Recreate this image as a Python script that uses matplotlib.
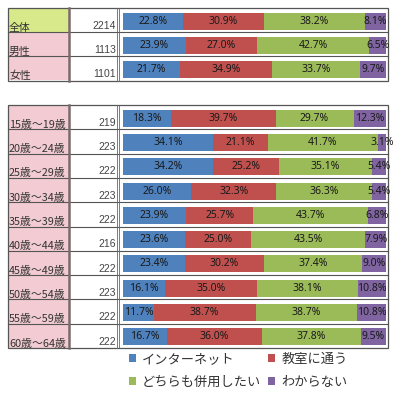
import matplotlib
matplotlib.use('Agg')
import matplotlib.pyplot as plt
from matplotlib.patches import Rectangle
import numpy as np

plt.rcParams['font.family'] = ['Noto Sans CJK JP', 'DejaVu Sans']

# data
series = ['インターネット', '教室に通う', 'どちらも併用したい', 'わからない']
colors = ['#4f81bd', '#c0504d', '#9bbb59', '#8064a2']

top_labels = ['全体', '男性', '女性']
top_n = [2214, 1113, 1101]
top_vals = [
    [22.8, 30.9, 38.2, 8.1],
    [23.9, 27.0, 42.7, 6.5],
    [21.7, 34.9, 33.7, 9.7],
]

age_labels = ['15歳～19歳', '20歳～24歳', '25歳～29歳', '30歳～34歳', '35歳～39歳',
              '40歳～44歳', '45歳～49歳', '50歳～54歳', '55歳～59歳', '60歳～64歳']
age_n = [219, 223, 222, 223, 222, 216, 222, 223, 222, 222]
age_vals = [
    [18.3, 39.7, 29.7, 12.3],
    [34.1, 21.1, 41.7, 3.1],
    [34.2, 25.2, 35.1, 5.4],
    [26.0, 32.3, 36.3, 5.4],
    [23.9, 25.7, 43.7, 6.8],
    [23.6, 25.0, 43.5, 7.9],
    [23.4, 30.2, 37.4, 9.0],
    [16.1, 35.0, 38.1, 10.8],
    [11.7, 38.7, 38.7, 10.8],
    [16.7, 36.0, 37.8, 9.5],
]

W, H = 395, 400
fig = plt.figure(figsize=(W / 100, H / 100), dpi=100)
bg = fig.add_axes([0, 0, 1, 1])
bg.set_xlim(0, W)
bg.set_ylim(H, 0)
bg.axis('off')

X0, X1, X2, X3 = 8, 69, 118, 388
BAR_L, BAR_R = 123, 386


def draw_block(y0, y1, labels, counts, vals, first_green=False):
    n = len(labels)
    rh = (y1 - y0) / n
    for i in range(n):
        ry = y0 + i * rh
        fc = '#d7e98a' if (first_green and i == 0) else '#f2ccd2'
        bg.add_patch(Rectangle((X0, ry), X1 - X0, rh, fc=fc, ec='none'))
        bg.text(X0 + 1, ry + rh + 0.5, labels[i], fontsize=7.8, color='#333333',
                ha='left', va='bottom')
        bg.text(X2 - 2, ry + rh - 1.5, str(counts[i]), fontsize=7.5, color='#444444',
                family='Liberation Sans', ha='right', va='bottom')
        if i > 0:
            bg.plot([X0, X3], [ry, ry], color='#555555', lw=0.8)
    # borders
    bg.add_patch(Rectangle((X0, y0), X3 - X0, y1 - y0, fc='none', ec='#555555', lw=0.9))
    bg.plot([X1, X1], [y0, y1], color='#7a6a6e', lw=1.8)
    bg.plot([X2 - 0.8, X2 - 0.8], [y0, y1], color='#666666', lw=0.6)
    bg.plot([X2 + 0.8, X2 + 0.8], [y0, y1], color='#666666', lw=0.6)

    ax = fig.add_axes([BAR_L / W, 1 - y1 / H, (BAR_R - BAR_L) / W, (y1 - y0) / H])
    ax.set_xlim(0, 100)
    ax.set_ylim(n - 0.5, -0.5)
    ax.axis('off')
    arr = np.array(vals)
    left = np.zeros(n)
    bars = []
    for k in range(4):
        b = ax.barh(np.arange(n) + 0.04, arr[:, k], left=left, height=0.7,
                    color=colors[k], label=series[k])
        bars.append(b)
        for i in range(n):
            ax.text(left[i] + arr[i, k] / 2, i + 0.04, f'{arr[i, k]:.1f}%',
                    ha='center', va='center', fontsize=7.5, color='#1a1a1a',
                    family='Noto Sans')
        left += arr[:, k]
    return bars


draw_block(8, 80.5, top_labels, top_n, top_vals, first_green=True)
bars = draw_block(105, 348, age_labels, age_n, age_vals)

# legend fills row-wise in the original
order = [0, 2, 1, 3]
fig.legend(handles=[bars[k] for k in order], labels=[series[k] for k in order],
           ncol=2, loc='upper left',
           bbox_to_anchor=(125 / W, 1 - 349 / H), frameon=False,
           fontsize=9.5, handlelength=0.55, handleheight=0.55, handletextpad=0.45,
           columnspacing=0.5, labelspacing=0.75, borderaxespad=0, borderpad=0.3,
           labelcolor='#333333')

fig.savefig('out.png', dpi=100)
